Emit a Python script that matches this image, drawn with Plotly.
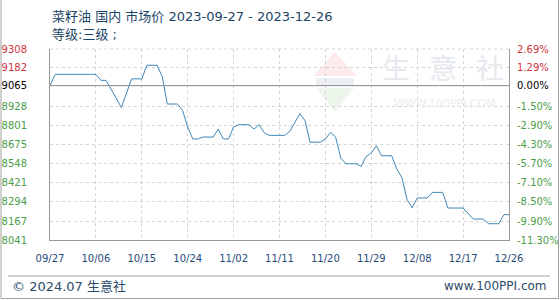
import plotly.graph_objects as go

# ---- data ----
dates = ["2023-09-27", "2023-09-28", "2023-10-06", "2023-10-07", "2023-10-08", "2023-10-11",
         "2023-10-13", "2023-10-15", "2023-10-16", "2023-10-18", "2023-10-19", "2023-10-20",
         "2023-10-22", "2023-10-23", "2023-10-24", "2023-10-25", "2023-10-26", "2023-10-27",
         "2023-10-29", "2023-10-30", "2023-10-31", "2023-11-01", "2023-11-02", "2023-11-03",
         "2023-11-05", "2023-11-06", "2023-11-07", "2023-11-08", "2023-11-09", "2023-11-12",
         "2023-11-13", "2023-11-15", "2023-11-16", "2023-11-17", "2023-11-19", "2023-11-20",
         "2023-11-21", "2023-11-22", "2023-11-23", "2023-11-24", "2023-11-26", "2023-11-27",
         "2023-11-28", "2023-11-29", "2023-11-30", "2023-12-01", "2023-12-03", "2023-12-04",
         "2023-12-05", "2023-12-06", "2023-12-07", "2023-12-08", "2023-12-10", "2023-12-11",
         "2023-12-13", "2023-12-14", "2023-12-17", "2023-12-19", "2023-12-21", "2023-12-22",
         "2023-12-24", "2023-12-25", "2023-12-26"]
prices = [9065, 9140, 9140, 9100, 9100, 8920,
          9110, 9110, 9200, 9200, 9126, 8943,
          8943, 8900, 8790, 8711, 8711, 8724,
          8724, 8777, 8711, 8711, 8791, 8806,
          8806, 8777, 8806, 8753, 8735, 8735,
          8761, 8879, 8834, 8690, 8690, 8711,
          8755, 8724, 8585, 8547, 8547, 8529,
          8595, 8618, 8666, 8600, 8600, 8512,
          8455, 8310, 8255, 8320, 8320, 8357,
          8357, 8253, 8253, 8180, 8180, 8149,
          8149, 8209, 8209]

base_price = 9065
y_tick_vals = [9308, 9182, 9065, 8928, 8801, 8675, 8548, 8421, 8294, 8167, 8041]
y_tick_text = ["9308", "9182", "9065", "8928", "8801", "8675", "8548", "8421", "8294", "8167", "8041"]
pct_tick_text = ["2.69%", "1.29%", "0.00%", "-1.50%", "-2.90%", "-4.30%", "-5.70%",
                 "-7.10%", "-8.50%", "-9.90%", "-11.30%"]
x_tick_vals = ["2023-09-27", "2023-10-06", "2023-10-15", "2023-10-24", "2023-11-02", "2023-11-11",
               "2023-11-20", "2023-11-29", "2023-12-08", "2023-12-17", "2023-12-26"]
x_tick_text = ["09/27", "10/06", "10/15", "10/24", "11/02", "11/11",
               "11/20", "11/29", "12/08", "12/17", "12/26"]

title_line1 = "菜籽油 国内 市场价 2023-09-27 - 2023-12-26"
title_line2 = "等级:三级 ;"
footer_left = "© 2024.07 生意社"
footer_right = "www.100PPI.com"

RED = "#d0343c"
GREEN = "#4a9e4a"
BLACK = "#000000"


def colored(labels, vals):
    out = []
    for t, v in zip(labels, vals):
        c = BLACK if v == base_price else (RED if v > base_price else GREEN)
        out.append(f'<span style="color:{c}">{t}</span>')
    return out


FONT = "DejaVu Sans, Noto Sans CJK SC, sans-serif"

fig = go.Figure()
fig.add_trace(go.Scatter(x=dates, y=prices, mode="lines",
                         line=dict(color="#3f87b8", width=1), showlegend=False,
                         hoverinfo="skip"))
fig.add_trace(go.Scatter(x=dates, y=prices, mode="lines", yaxis="y2",
                         line=dict(color="rgba(0,0,0,0)", width=0), showlegend=False,
                         hoverinfo="skip"))

W, H = 560, 300
L, R, T, B = 50, 51, 49, 60
pw, ph = W - L - R, H - T - B


def px_x(px):
    return (px - L) / pw


def px_y(py):
    return (H - B - py) / ph


yr = [8041, 9308]
fig.update_layout(
    width=W, height=H, autosize=False,
    margin=dict(l=L, r=R, t=T, b=B, pad=0, autoexpand=False),
    paper_bgcolor="white", plot_bgcolor="white",
    font=dict(family=FONT, size=10),
    xaxis=dict(type="date", range=["2023-09-27", "2023-12-26"],
               tickvals=x_tick_vals, ticktext=x_tick_text,
               tickfont=dict(color="#1f4a78", size=10, family=FONT),
               showgrid=True, gridcolor="#d4d4d4", griddash="dot", gridwidth=1,
               showline=True, linecolor="#999999", linewidth=1, automargin=False,
               ticks="", ticklabelstandoff=9, zeroline=False, fixedrange=True),
    yaxis=dict(range=yr, tickvals=y_tick_vals, ticktext=colored(y_tick_text, y_tick_vals),
               tickfont=dict(size=10, family=FONT), automargin=False,
               showgrid=True, gridcolor="#d4d4d4", griddash="dot", gridwidth=1,
               showline=True, linecolor="#999999", linewidth=1,
               ticks="", ticklabelstandoff=20, zeroline=False, fixedrange=True),
    yaxis2=dict(range=yr, overlaying="y", side="right", automargin=False,
                tickvals=y_tick_vals, ticktext=colored(pct_tick_text, y_tick_vals),
                tickfont=dict(size=10, family=FONT),
                showgrid=False, showline=True, linecolor="#999999", linewidth=1,
                ticks="", ticklabelstandoff=5, zeroline=False, fixedrange=True),
)

shapes = []
# top dotted border
shapes.append(dict(type="line", xref="paper", yref="paper", x0=0, x1=1, y0=1, y1=1,
                   line=dict(color="#d4d4d4", width=1, dash="dot")))
# base line
shapes.append(dict(type="line", xref="paper", yref="y", x0=0, x1=1, y0=base_price, y1=base_price,
                   line=dict(color="#8c8c8c", width=1)))
# outer frame (left, right, bottom)
shapes.append(dict(type="line", xref="paper", yref="paper", x0=px_x(1), x1=px_x(1),
                   y0=px_y(0), y1=px_y(298.5), line=dict(color="#a0a0a0", width=1)))
shapes.append(dict(type="line", xref="paper", yref="paper", x0=px_x(558.5), x1=px_x(558.5),
                   y0=px_y(0), y1=px_y(298.5), line=dict(color="#a0a0a0", width=1)))
shapes.append(dict(type="line", xref="paper", yref="paper", x0=px_x(1), x1=px_x(558.5),
                   y0=px_y(298.5), y1=px_y(298.5), line=dict(color="#a0a0a0", width=1)))
# footer separator
shapes.append(dict(type="line", xref="paper", yref="paper", x0=px_x(8), x1=px_x(550),
                   y0=px_y(276), y1=px_y(276), line=dict(color="#a0a0a0", width=1)))


# watermark logo (roof and inverted triangle)
def path(points):
    s = "M " + " L ".join(f"{px_x(a)},{px_y(b)}" for a, b in points) + " Z"
    return s


shapes.append(dict(type="path", xref="paper", yref="paper", layer="below",
                   path=path([(313, 76), (335, 52), (357, 76)]),
                   fillcolor="#fdeceb", line=dict(width=0)))
shapes.append(dict(type="path", xref="paper", yref="paper", layer="below",
                   path=path([(316, 88), (354, 88), (335, 112)]),
                   fillcolor="#ecf6eb", line=dict(width=0)))
shapes.append(dict(type="rect", xref="paper", yref="paper", layer="below",
                   x0=px_x(316), x1=px_x(354), y0=px_y(86), y1=px_y(78),
                   fillcolor="#eceff4", line=dict(width=0)))
fig.update_layout(shapes=shapes)

ann = []
ann.append(dict(xref="paper", yref="paper", x=px_x(50), y=px_y(16), xanchor="left", yanchor="middle",
                text=title_line1, showarrow=False,
                font=dict(family=FONT, size=13, color="#1b4566")))
ann.append(dict(xref="paper", yref="paper", x=px_x(50), y=px_y(34), xanchor="left", yanchor="middle",
                text=title_line2, showarrow=False,
                font=dict(family=FONT, size=13, color="#1b4566")))
ann.append(dict(xref="paper", yref="paper", x=px_x(10), y=px_y(286), xanchor="left", yanchor="middle",
                text=footer_left, showarrow=False,
                font=dict(family=FONT, size=13, color="#2b4b6b")))
ann.append(dict(xref="paper", yref="paper", x=px_x(549), y=px_y(286), xanchor="right", yanchor="middle",
                text=footer_right, showarrow=False,
                font=dict(family=FONT, size=12, color="#2b4b6b")))
for cx, ch in zip([396, 443, 490], ["生", "意", "社"]):
    ann.append(dict(xref="paper", yref="paper", x=px_x(cx), y=px_y(67), xanchor="center",
                    yanchor="middle", text=ch, showarrow=False,
                    font=dict(family="Noto Sans CJK SC", size=28, color="#e6e9ed")))
ann.append(dict(xref="paper", yref="paper", x=px_x(445), y=px_y(103), xanchor="center",
                yanchor="middle", text="WWW.100PPI.COM", showarrow=False,
                font=dict(family=FONT, size=11, color="#ececec")))
fig.update_layout(annotations=ann)

fig.write_html("out.html")
